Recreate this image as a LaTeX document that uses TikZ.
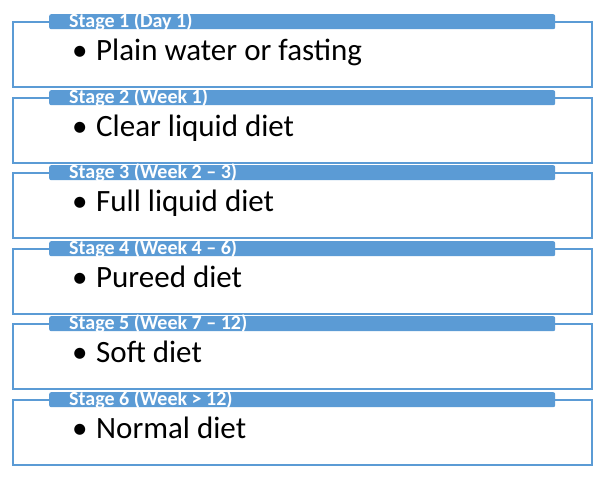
\documentclass[tikz,border=0pt]{standalone}
\usepackage{fontspec}
\setmainfont{Carlito}
\definecolor{stageblue}{HTML}{5B9BD5}
\tikzstyle{stagebox}=[draw=stageblue, line width=1.6pt, fill=white, minimum width=579pt, minimum height=65pt, inner sep=0pt, anchor=north west]
\tikzstyle{stagebar}=[fill=stageblue, rounded corners=2pt, minimum width=506pt, minimum height=15pt, inner sep=0pt, anchor=north west]
\tikzstyle{stagetitle}=[white, font=\fontsize{20}{20}\selectfont\bfseries, anchor=base west, inner sep=0pt]
\tikzstyle{stageitem}=[black, font=\fontsize{31}{31}\selectfont, anchor=base west, inner sep=0pt]

\begin{document}
\begin{tikzpicture}[x=1pt, y=-1pt]
\useasboundingbox (0,0) rectangle (605,480);
% Frames
    \node[stagebox] (box1) at (12,21) {};
    \node[stagebox] (box2) at (12,97) {};
    \node[stagebox] (box3) at (12,172) {};
    \node[stagebox] (box4) at (12,248) {};
    \node[stagebox] (box5) at (12,323) {};
    \node[stagebox] (box6) at (12,399) {};
%Title bars
    \node[stagebar] (bar1) at (49,14) {};
    \node[stagebar] (bar2) at (49,90) {};
    \node[stagebar] (bar3) at (49,165) {};
    \node[stagebar] (bar4) at (49,241) {};
    \node[stagebar] (bar5) at (49,316) {};
    \node[stagebar] (bar6) at (49,392) {};
%Titles
    \node[stagetitle] (title1) at (69,27) {Stage 1 (Day 1)};
    \node[stagetitle] (title2) at (69,103) {Stage 2 (Week 1)};
    \node[stagetitle] (title3) at (69,178) {Stage 3 (Week 2 – 3)};
    \node[stagetitle] (title4) at (69,254) {Stage 4 (Week 4 – 6)};
    \node[stagetitle] (title5) at (69,329) {Stage 5 (Week 7 – 12)};
    \node[stagetitle] (title6) at (69,405) {Stage 6 (Week > 12)};
%Diets
    \node[stageitem] (item1) at (72,60) {\makebox[24pt][l]{•}Plain water or fasting};
    \node[stageitem] (item2) at (72,136) {\makebox[24pt][l]{•}Clear liquid diet};
    \node[stageitem] (item3) at (72,211) {\makebox[24pt][l]{•}Full liquid diet};
    \node[stageitem] (item4) at (72,287) {\makebox[24pt][l]{•}Pureed diet};
    \node[stageitem] (item5) at (72,362) {\makebox[24pt][l]{•}Soft diet};
    \node[stageitem] (item6) at (72,438) {\makebox[24pt][l]{•}Normal diet};
\end{tikzpicture}
\end{document}
